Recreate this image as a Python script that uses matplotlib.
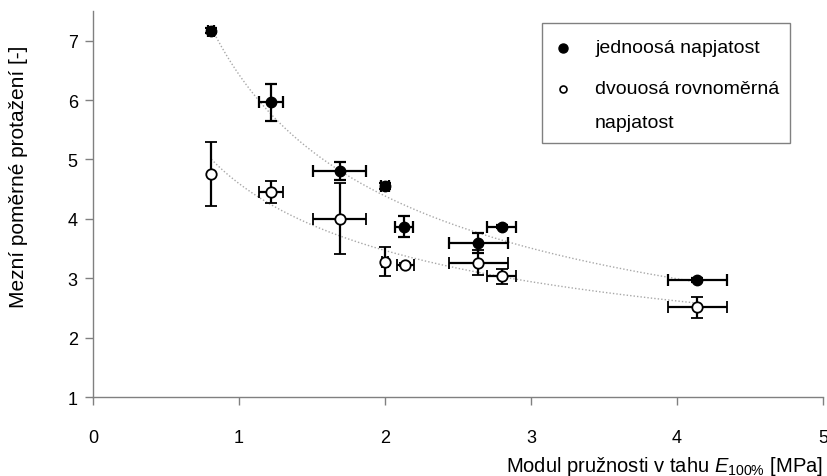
import matplotlib
matplotlib.use("Agg")
import matplotlib.pyplot as plt
import numpy as np
from matplotlib.patches import Rectangle

plt.rcParams['font.family'] = ['Liberation Sans', 'DejaVu Sans']
plt.rcParams['mathtext.fontset'] = 'custom'
plt.rcParams['mathtext.rm'] = 'Liberation Sans'
plt.rcParams['mathtext.it'] = 'Liberation Sans:italic'

# jednoosa napjatost (plne body)
E_jedno = [0.81, 1.22, 1.69, 2.00, 2.13, 2.64, 2.80, 4.14]
E_jedno_err = [0.02, 0.08, 0.18, 0.03, 0.06, 0.20, 0.10, 0.20]
eps_jedno = [7.17, 5.96, 4.81, 4.55, 3.87, 3.59, 3.87, 2.97]
eps_jedno_err = [0.04, 0.31, 0.15, 0.05, 0.18, 0.17, 0.03, 0.04]

# dvouosa rovnomerna napjatost (prazdne body)
E_dvou = [0.81, 1.22, 1.69, 2.00, 2.14, 2.64, 2.80, 4.14]
E_dvou_err = [0.0, 0.08, 0.18, 0.02, 0.06, 0.20, 0.10, 0.20]
eps_dvou = [4.76, 4.45, 4.00, 3.28, 3.23, 3.26, 3.03, 2.51]
eps_dvou_err = [0.54, 0.18, 0.60, 0.24, 0.03, 0.21, 0.12, 0.18]

x_ticks = [0, 1, 2, 3, 4, 5]
y_ticks = [1, 2, 3, 4, 5, 6, 7]

legend_labels = ['jednoosá napjatost', 'dvouosá rovnoměrná', 'napjatost']


def power_trend(x, y):
    # mocninna spojnice trendu y = a * x^b
    b, ln_a = np.polyfit(np.log(x), np.log(y), 1)
    xs = np.linspace(min(x), max(x), 200)
    return xs, np.exp(ln_a) * xs ** b


fig = plt.figure(figsize=(8.27, 4.77), dpi=100)
ax = fig.add_axes([0.1125, 0.1656, 0.8825, 0.8094])

for x, y in [(E_jedno, eps_jedno), (E_dvou, eps_dvou)]:
    xs, ys = power_trend(x, y)
    ax.plot(xs, ys, color='#a8a8a8', lw=1.0, ls=(0, (1, 1.5)), zorder=1)

ax.errorbar(E_jedno, eps_jedno, xerr=E_jedno_err, yerr=eps_jedno_err,
            fmt='o', ms=7.5, mfc='black', mec='black', ecolor='black',
            elinewidth=1.6, capsize=4, capthick=1.6, zorder=3)
ax.errorbar(E_dvou, eps_dvou, xerr=E_dvou_err, yerr=eps_dvou_err,
            fmt='o', ms=7.5, mfc='white', mec='black', mew=1.3, ecolor='black',
            elinewidth=1.6, capsize=4, capthick=1.6, zorder=3)

ax.set_xlim(0, 5)
ax.set_ylim(1, 7.5)
ax.set_xticks(x_ticks)
ax.set_yticks(y_ticks)
ax.tick_params(axis='x', direction='out', length=6, width=1, color='#808080',
               pad=17, labelsize=13)
ax.tick_params(axis='y', direction='out', length=6, width=1, color='#808080',
               pad=5, labelsize=13)

for side in ['top', 'right']:
    ax.spines[side].set_visible(False)
for side in ['left', 'bottom']:
    ax.spines[side].set_color('#808080')
    ax.spines[side].set_linewidth(1.0)

ax.set_ylabel('Mezní poměrné protažení [-]', fontsize=15)
ax.yaxis.set_label_coords(-0.089, 0.572)
ax.set_xlabel(r'Modul pružnosti v tahu $E_{\mathit{100\%}}$ [MPa]',
              fontsize=14.5, ha='right')
ax.xaxis.set_label_coords(1.0, -0.148)

# legenda
ax.add_patch(Rectangle((0.615, 0.658), 0.34, 0.311, transform=ax.transAxes,
                       facecolor='white', edgecolor='#808080', lw=1.0,
                       zorder=4, clip_on=False))
ax.plot([0.644], [0.905], 'o', ms=6.5, mfc='black', mec='black',
        transform=ax.transAxes, zorder=5, clip_on=False)
ax.plot([0.644], [0.798], 'o', ms=5, mfc='white', mec='black', mew=1.2,
        transform=ax.transAxes, zorder=5, clip_on=False)
for label, ty in zip(legend_labels, [0.905, 0.798, 0.712]):
    ax.text(0.688, ty, label, transform=ax.transAxes,
            fontsize=14, va='center', ha='left', zorder=5)

fig.savefig('out.png', dpi=100, facecolor='white')
